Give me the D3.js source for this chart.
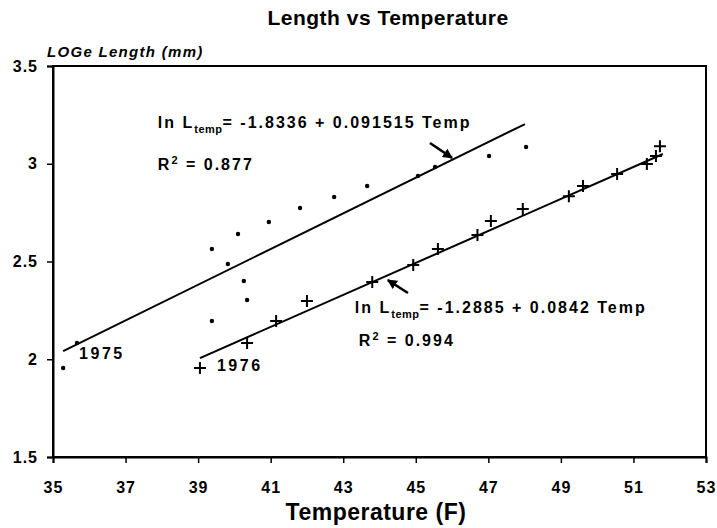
<!DOCTYPE html>
<html>
<head>
<meta charset="utf-8">
<script src="https://cdn.jsdelivr.net/npm/d3@7"></script>
<style>
  body { margin: 0; background: #fff; }
  text { font-family: "Liberation Sans", Arial, sans-serif; font-weight: bold; fill: #000; }
</style>
</head>
<body>
<svg id="chart" width="717" height="528"></svg>
<script>
// ======================
// DATA
// ======================

// 1975 observations (dots)
const temp1975 = [35.28, 35.66, 39.38, 39.38, 39.82, 40.10, 40.26, 40.35,
                  40.95, 41.81, 42.75, 43.66, 45.06, 45.53, 47.02, 48.04];
const len1975  = [1.955, 2.083, 2.564, 2.196, 2.487, 2.641, 2.400, 2.303,
                  2.702, 2.774, 2.830, 2.886, 2.937, 2.983, 3.040, 3.086];

// 1976 observations (crosses)
const temp1976 = [39.05, 40.35, 41.15, 42.00, 43.80, 44.93, 45.61, 46.70,
                  47.07, 47.95, 49.22, 49.61, 50.55, 51.37, 51.62, 51.73];
const len1976  = [1.955, 2.083, 2.196, 2.298, 2.395, 2.482, 2.564, 2.636,
                  2.707, 2.768, 2.834, 2.886, 2.947, 2.999, 3.040, 3.090];

// regression lines, read as end points
const fitTemp1975 = [35.28, 48.01];
const fitLen1975  = [2.042, 3.203];
const fitTemp1976 = [39.05, 51.81];
const fitLen1976  = [2.006, 3.050];

const xTicks = [35, 37, 39, 41, 43, 45, 47, 49, 51, 53];
const yTicks = [1.5, 2, 2.5, 3, 3.5];

// ======================
// SETUP
// ======================

const svg = d3.select("#chart");
const margin = { top: 66, right: 11, bottom: 71, left: 53 };
const width = 717, height = 528;
const innerW = width - margin.left - margin.right;
const innerH = height - margin.top - margin.bottom;

const x = d3.scaleLinear().domain([35, 53]).range([margin.left, margin.left + innerW]);
const y = d3.scaleLinear().domain([1.5, 3.5]).range([margin.top + innerH, margin.top]);

svg.append("text")
    .attr("x", 388)
    .attr("y", 25)
    .attr("text-anchor", "middle")
    .style("font-size", "21px")
    .style("letter-spacing", "0.5px")
    .text("Length vs Temperature");

svg.append("text")
    .attr("x", 47)
    .attr("y", 57)
    .style("font-size", "15px")
    .style("font-style", "italic")
    .style("letter-spacing", "1.3px")
    .text("LOGe Length (mm)");

// frame
svg.append("rect")
    .attr("x", margin.left)
    .attr("y", margin.top)
    .attr("width", innerW)
    .attr("height", innerH)
    .attr("fill", "none")
    .attr("stroke", "#000")
    .attr("stroke-width", 2);

// axes
const xAxisG = svg.append("g")
    .attr("transform", `translate(0,${margin.top + innerH})`)
    .call(d3.axisBottom(x).tickValues(xTicks).tickSize(6).tickPadding(19).tickFormat(d3.format("d")));
const yAxisG = svg.append("g")
    .attr("transform", `translate(${margin.left},0)`)
    .call(d3.axisLeft(y).tickValues(yTicks).tickSize(6).tickPadding(9).tickFormat(d => d));

[xAxisG, yAxisG].forEach(g => {
    g.select(".domain").attr("stroke-width", 2);
    g.selectAll(".tick line").attr("stroke-width", 1.5);
    g.selectAll("text")
        .style("font-family", '"Liberation Sans", Arial, sans-serif')
        .style("font-weight", "bold")
        .style("font-size", "16px")
        .style("letter-spacing", "1px");
});

svg.append("text")
    .attr("x", 376)
    .attr("y", 520)
    .attr("text-anchor", "middle")
    .style("font-size", "23px")
    .style("letter-spacing", "0.5px")
    .text("Temperature (F)");

// ======================
// MARKS
// ======================

const line = d3.line().x(d => x(d[0])).y(d => y(d[1]));

svg.append("path")
    .datum(d3.zip(fitTemp1975, fitLen1975))
    .attr("d", line)
    .attr("fill", "none")
    .attr("stroke", "#000")
    .attr("stroke-width", 2);

svg.append("path")
    .datum(d3.zip(fitTemp1976, fitLen1976))
    .attr("d", line)
    .attr("fill", "none")
    .attr("stroke", "#000")
    .attr("stroke-width", 2);

svg.append("g").selectAll("circle")
    .data(d3.zip(temp1975, len1975))
    .enter()
    .append("circle")
    .attr("cx", d => x(d[0]))
    .attr("cy", d => y(d[1]))
    .attr("r", 2.2)
    .attr("fill", "#000");

svg.append("g").selectAll("path")
    .data(d3.zip(temp1976, len1976))
    .enter()
    .append("path")
    .attr("d", d => {
        const cx = x(d[0]), cy = y(d[1]);
        return `M${cx - 6},${cy}H${cx + 6}M${cx},${cy - 6}V${cy + 6}`;
    })
    .attr("stroke", "#000")
    .attr("stroke-width", 2);

// ======================
// ANNOTATIONS
// ======================

function equation(tx, ty, rest) {
    const t = svg.append("text")
        .attr("x", x(tx))
        .attr("y", y(ty))
        .style("font-size", "16px")
        .style("letter-spacing", "2px");
    t.append("tspan").text("ln L");
    t.append("tspan").attr("dy", 5).style("font-size", "11px").style("letter-spacing", "0.5px").text("temp");
    t.append("tspan").attr("dy", -5).text("= " + rest);
}

function rSquared(tx, ty, val) {
    const t = svg.append("text")
        .attr("x", x(tx))
        .attr("y", y(ty))
        .style("font-size", "16px")
        .style("letter-spacing", "2px");
    t.append("tspan").text("R");
    t.append("tspan").attr("dy", -6).style("font-size", "11px").text("2");
    t.append("tspan").attr("dy", 6).text(" = " + val);
}

equation(37.89, 3.183, "-1.8336 + 0.091515 Temp");
rSquared(37.89, 2.968, "0.877");
equation(43.32, 2.237, "-1.2885 + 0.0842 Temp");
rSquared(43.43, 2.068, "0.994");

svg.append("text")
    .attr("x", x(35.72)).attr("y", y(2.001))
    .style("font-size", "16px").style("letter-spacing", "2.5px")
    .text("1975");
svg.append("text")
    .attr("x", x(39.52)).attr("y", y(1.94))
    .style("font-size", "16px").style("letter-spacing", "2.5px")
    .text("1976");

// arrows
svg.append("defs").append("marker")
    .attr("id", "head")
    .attr("viewBox", "0 0 10 10")
    .attr("refX", 9).attr("refY", 5)
    .attr("markerWidth", 4).attr("markerHeight", 4)
    .attr("orient", "auto")
    .append("path")
    .attr("d", "M0,0L10,5L0,10z")
    .attr("fill", "#000");

const arrows = [
    [[45.39, 3.106], [46.00, 3.030]],
    [[44.785, 2.339], [44.23, 2.405]]
];
svg.append("g").selectAll("path")
    .data(arrows)
    .enter()
    .append("path")
    .attr("d", line)
    .attr("stroke", "#000")
    .attr("stroke-width", 2.5)
    .attr("marker-end", "url(#head)");
</script>
</body>
</html>
